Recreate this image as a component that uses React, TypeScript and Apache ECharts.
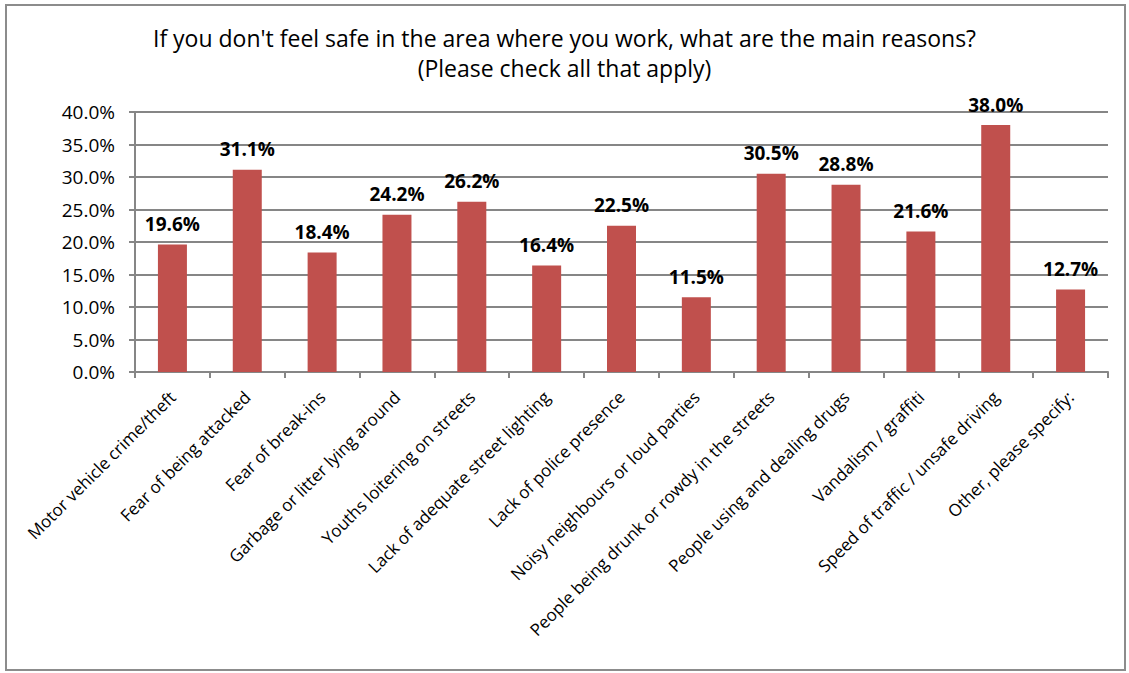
import React, { useEffect, useRef } from "react";
import * as echarts from "echarts";

const titleLines = [
  "If you don't feel safe in the area where you work, what are the main reasons?",
  "(Please check all that apply)",
];

const categories = [
  "Motor vehicle crime/theft",
  "Fear of being attacked",
  "Fear of break-ins",
  "Garbage or litter lying around",
  "Youths loitering on streets",
  "Lack of adequate street lighting",
  "Lack of police presence",
  "Noisy neighbours or loud parties",
  "People being drunk or rowdy in the streets",
  "People using and dealing drugs",
  "Vandalism / graffiti",
  "Speed of traffic / unsafe driving",
  "Other, please specify:",
];

const values = [19.6, 31.1, 18.4, 24.2, 26.2, 16.4, 22.5, 11.5, 30.5, 28.8, 21.6, 38.0, 12.7];

const yTicks = [0, 5, 10, 15, 20, 25, 30, 35, 40];

export default function App() {
  const ref = useRef<HTMLDivElement>(null);
  useEffect(() => {
    if (!ref.current) return;
    const chart = echarts.init(ref.current, undefined, { renderer: "svg" });
    const font = "Open Sans";
    const axisColor = "#868686";
    chart.setOption({
      animation: false,
      backgroundColor: "#ffffff",
      textStyle: { fontFamily: font },
      title: {
        text: titleLines.join("\n"),
        left: "center",
        top: 18,
        textStyle: {
          fontFamily: font,
          fontSize: 23,
          fontWeight: "normal",
          color: "#000",
          lineHeight: 30,
        },
      },
      graphic: [
        {
          type: "rect",
          shape: { x: 6, y: 5, width: 1119, height: 665 },
          style: { fill: "none", stroke: "#8c8c8c", lineWidth: 2 },
          silent: true,
        },
      ],
      grid: { left: 135, right: 21, top: 112, bottom: 301, containLabel: false },
      xAxis: {
        type: "category",
        data: categories,
        axisLine: { show: true, lineStyle: { color: axisColor, width: 2 } },
        axisTick: { show: true, length: 6, lineStyle: { color: axisColor, width: 2 } },
        axisLabel: {
          rotate: 45,
          interval: 0,
          margin: 22,
          fontSize: 17,
          color: "#000",
          fontFamily: font,
        },
      },
      yAxis: {
        type: "value",
        min: yTicks[0],
        max: yTicks[yTicks.length - 1],
        interval: 5,
        axisLine: { show: true, lineStyle: { color: axisColor, width: 2 } },
        axisTick: { show: true, length: 6, lineStyle: { color: axisColor, width: 2 } },
        splitLine: { show: true, lineStyle: { color: axisColor, width: 2 } },
        axisLabel: {
          formatter: (v: number) => v.toFixed(1) + "%",
          fontSize: 19,
          color: "#000",
          margin: 20,
          fontFamily: font,
        },
      },
      series: [
        {
          type: "bar",
          barWidth: 29,
          data: values,
          itemStyle: { color: "#C0504D" },
          label: {
            show: true,
            position: "top",
            distance: 11,
            formatter: (p: any) => Number(p.value).toFixed(1) + "%",
            fontWeight: "bold",
            fontSize: 19,
            color: "#000",
            fontFamily: font,
          },
        },
      ],
    });
    return () => chart.dispose();
  }, []);
  return (
    <div
      ref={ref}
      style={{ position: "absolute", left: 0, top: 0, width: 1129, height: 673 }}
    />
  );
}
